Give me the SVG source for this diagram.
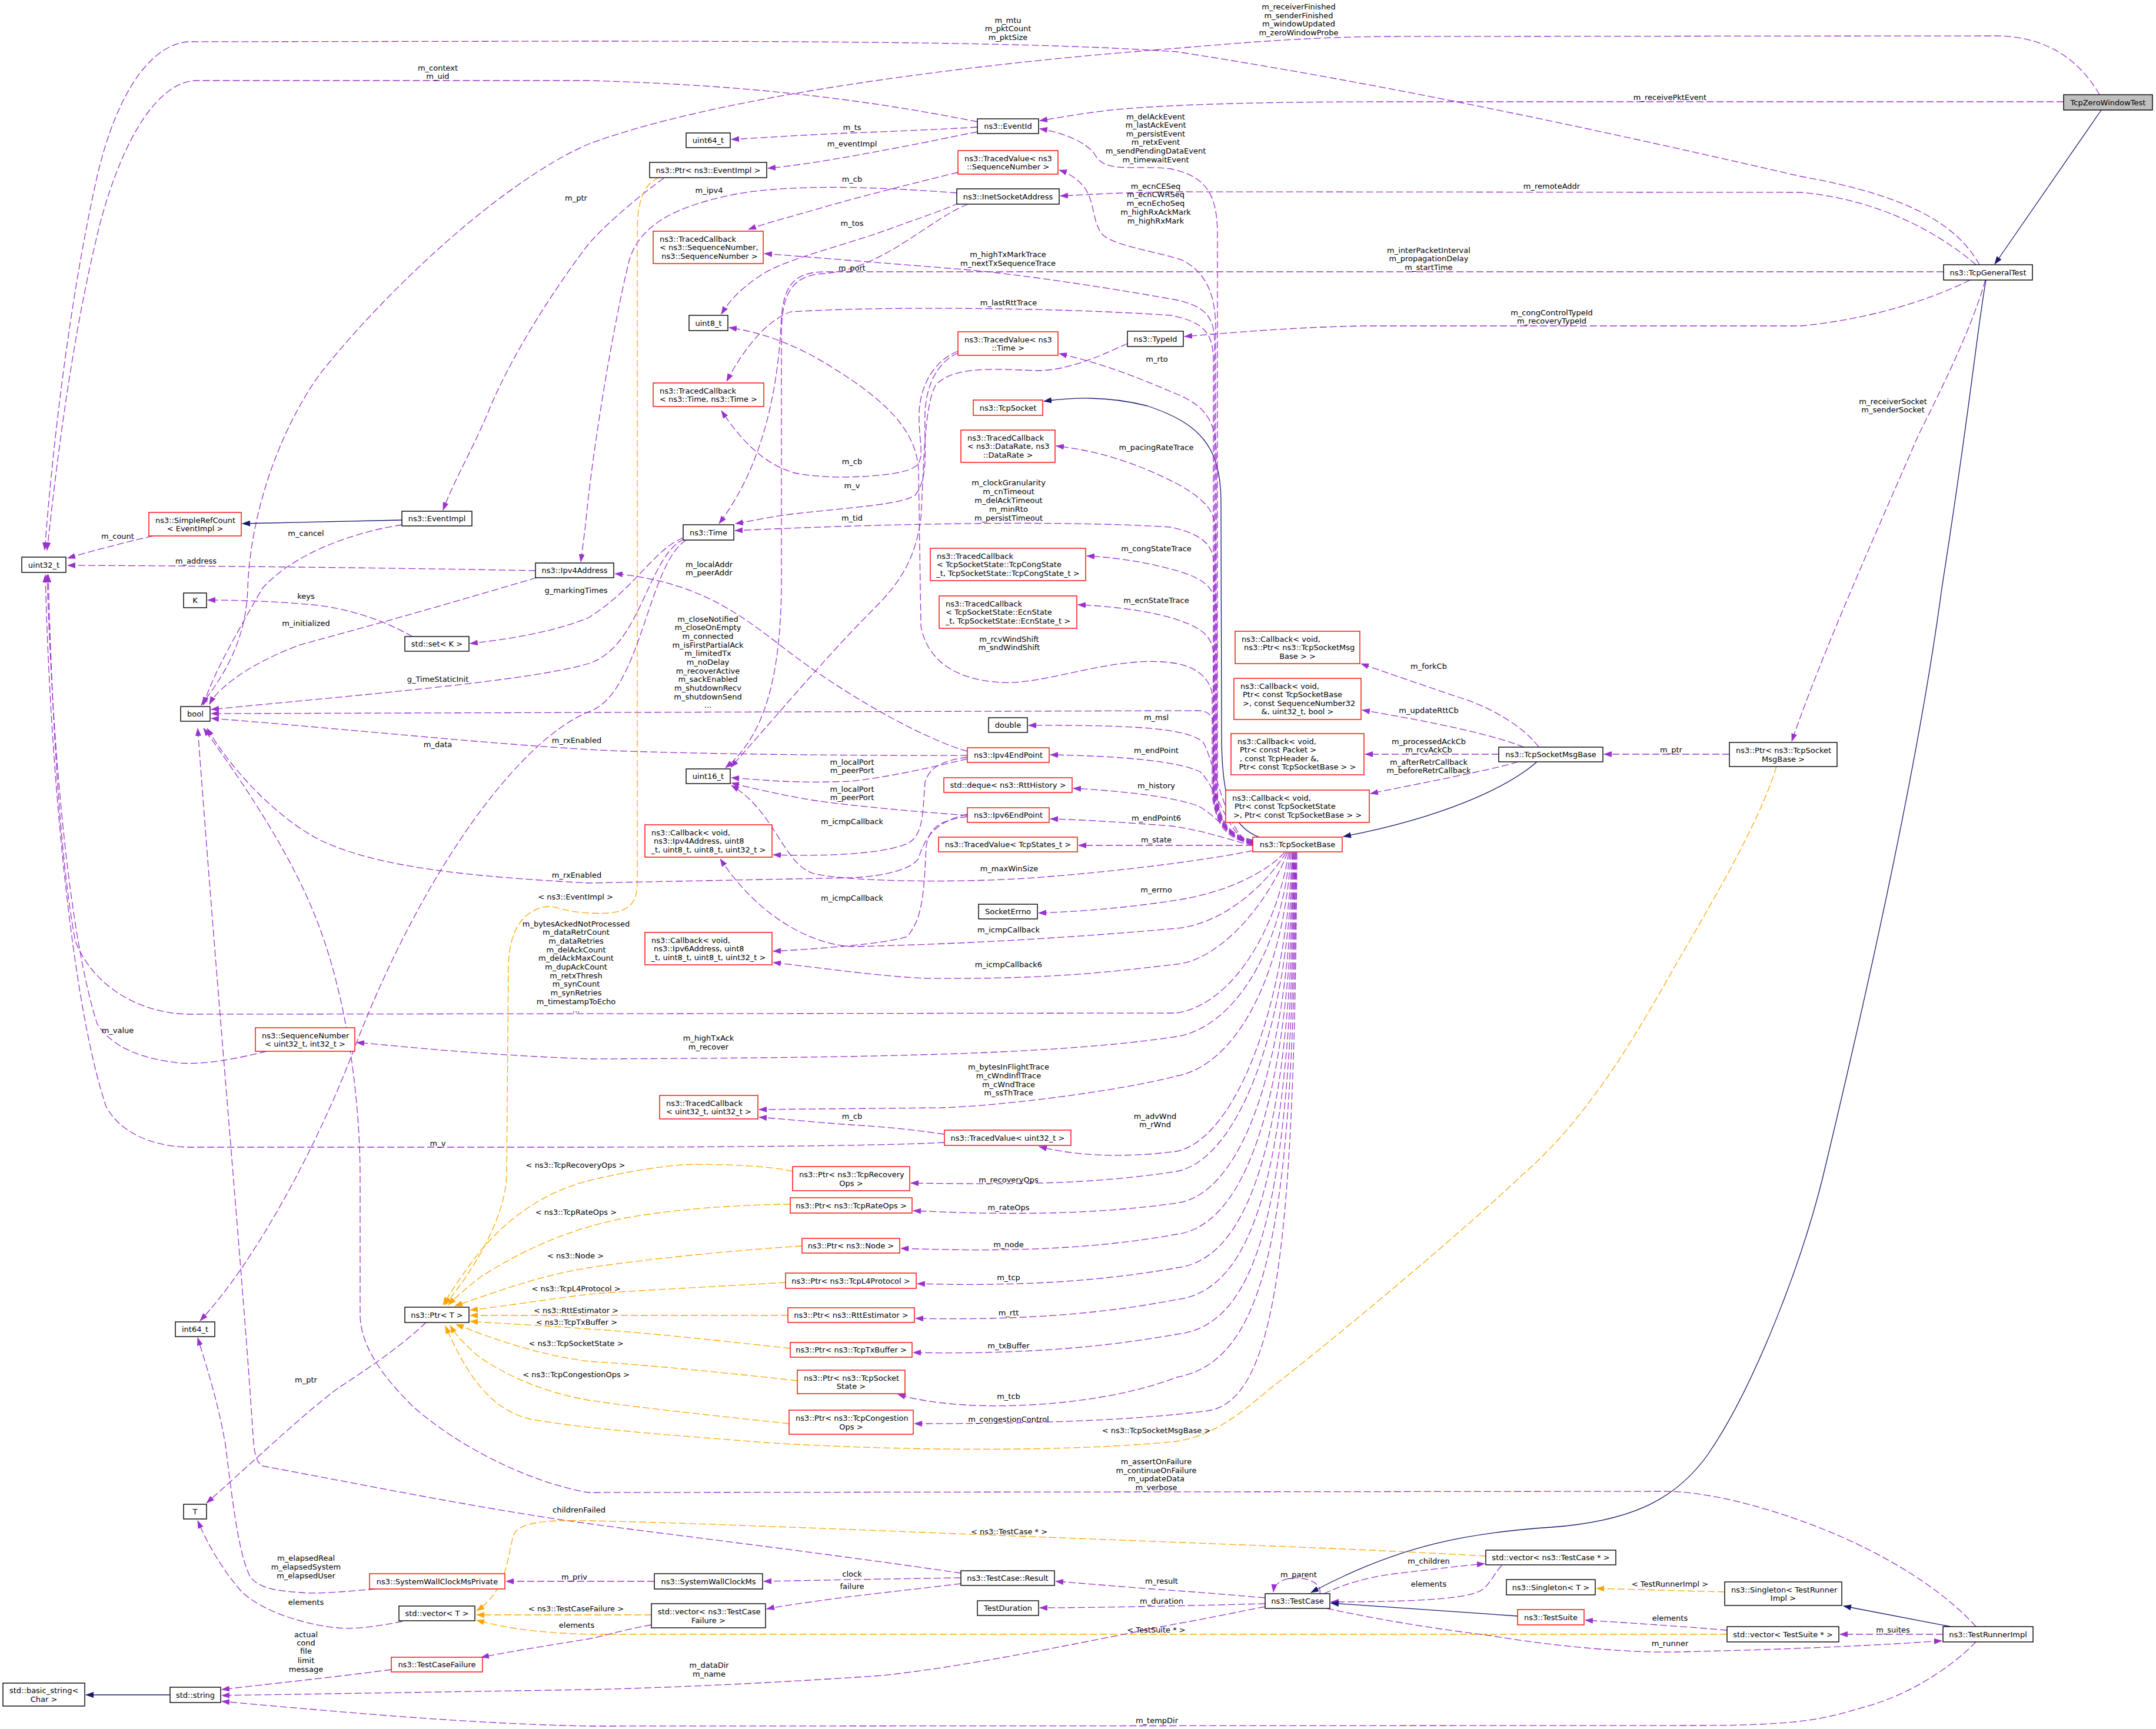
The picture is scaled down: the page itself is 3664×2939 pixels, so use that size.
<svg xmlns="http://www.w3.org/2000/svg" width="3664" height="2939" viewBox="0 0 3664 2939">
<defs>
<style>
text{font-family:"DejaVu Sans","Liberation Sans",sans-serif;font-size:13px;fill:#000}
.c{text-anchor:middle}
.nb{fill:#fff;stroke:#000;stroke-width:1.4}
.nr{fill:#fff;stroke:#ff0000;stroke-width:1.4}
.ng{fill:#bfbfbf;stroke:#000;stroke-width:1.4}
.u{fill:none;stroke:#9a32cd;stroke-width:1.3;stroke-dasharray:12,5;marker-end:url(#ap)}
.t{fill:none;stroke:#ffa500;stroke-width:1.3;stroke-dasharray:12,5;marker-end:url(#ao)}
.i{fill:none;stroke:#191970;stroke-width:1.3;marker-end:url(#ai)}
</style>
<marker id="ap" markerWidth="14" markerHeight="10" refX="13" refY="5" orient="auto" markerUnits="userSpaceOnUse"><path d="M0,0 L14,5 L0,10 z" fill="#9a32cd"/></marker>
<marker id="ao" markerWidth="14" markerHeight="10" refX="13" refY="5" orient="auto" markerUnits="userSpaceOnUse"><path d="M0,0 L14,5 L0,10 z" fill="#ffa500"/></marker>
<marker id="ai" markerWidth="14" markerHeight="10" refX="13" refY="5" orient="auto" markerUnits="userSpaceOnUse"><path d="M0,0 L14,5 L0,10 z" fill="#191970"/></marker>
</defs>
<rect x="0" y="0" width="3664" height="2939" fill="#fff"/>
<g id="connectors">
<path class="i" d="M3571 187 L3390 449"/>
<path class="u" d="M3568 161 C3530 95 3470 61 3390 61 L2350 62 C2200 64 2100 74 2000 82 C1600 112 1200 170 1000 245 C850 310 650 500 542 638 C470 740 425 880 421 1000 C418 1100 370 1160 342 1199"/>
<path class="u" d="M3507 173 L2350 173 C2100 173 1950 180 1880 188 C1830 194 1800 200 1767 205"/>
<path class="u" d="M3364 450 C3330 390 3260 335 3061 300 C2800 240 2400 150 2000 88 C1800 74 1500 70 1000 70 L320 71 C260 75 200 150 165 300 C120 500 90 750 76 935"/>
<path class="u" d="M3358 450 C3300 400 3200 340 3061 327 L2000 326 C1900 327 1850 331 1802 333"/>
<path class="u" d="M3303 462 L1400 462 C1350 463 1332 485 1328 540 C1322 680 1290 800 1222 890"/>
<path class="u" d="M3348 476 C3300 500 3200 540 3061 554 L2318 554 C2200 556 2100 565 2013 572"/>
<path class="u" d="M3374 476 C3350 560 3300 660 3260 740 C3200 880 3100 1100 3045 1260"/>
<path class="i" d="M3375 476 C3360 560 3350 680 3300 1000 C3260 1300 3170 1700 3098 2000 C3061 2150 2980 2360 2902 2473 C2850 2545 2780 2585 2637 2596 C2500 2605 2380 2625 2228 2707"/>
<path class="u" d="M2939 1282 L2726 1282"/>
<path class="t" d="M3019 1303 C2990 1400 2900 1550 2849 1638 C2780 1760 2700 1900 2584 2000 C2500 2080 2300 2250 2159 2360 C2100 2410 2060 2440 2000 2450 C1800 2470 1500 2465 1300 2452 C1150 2440 1000 2430 900 2412 C830 2395 790 2330 757 2254"/>
<path class="i" d="M2612 1295 C2560 1340 2450 1390 2283 1422"/>
<path class="u" d="M2615 1270 C2590 1235 2530 1200 2478 1185 C2420 1165 2360 1145 2313 1128"/>
<path class="u" d="M2590 1270 C2540 1250 2450 1230 2315 1207"/>
<path class="u" d="M2547 1282 L2320 1282"/>
<path class="u" d="M2580 1295 C2530 1310 2420 1330 2329 1349"/>
<path class="i" d="M2140 1423 C2090 1405 2076 1350 2076 1250 L2075 850 C2074 760 2040 720 1950 690 C1880 672 1820 676 1774 682"/>
<path class="u" d="M2130 1428 C2085 1420 2069 1390 2069 1340 L2069 400 C2069 330 2050 300 1990 287 C1930 280 1880 295 1862 265 C1848 240 1800 224 1767 219"/>
<path class="u" d="M2130 1429 C2084 1420 2066 1390 2066 1340 L2066 560 C2066 500 2050 465 2011 443 C1970 428 1900 420 1875 400 C1855 380 1862 340 1840 315 C1828 302 1815 294 1800 289"/>
<path class="u" d="M2130 1430 C2083 1422 2064 1390 2064 1340 L2064 580 C2063 545 2055 522 2000 510 C1900 492 1750 468 1638 458 L1299 431"/>
<path class="u" d="M2130 1431 C2082 1423 2062 1390 2062 1340 L2062 610 C2061 570 2050 548 1990 536 C1800 523 1500 520 1344 530 C1300 545 1260 600 1235 648"/>
<path class="u" d="M2130 1431 C2084 1423 2067 1390 2067 1340 L2067 770 C2067 720 2050 690 2000 670 C1930 640 1880 620 1800 601"/>
<path class="u" d="M2130 1432 C2083 1424 2065 1390 2065 1340 L2065 900 C2065 870 2050 850 2000 822 C1940 792 1880 768 1795 758"/>
<path class="u" d="M2130 1432 C2082 1424 2063 1390 2063 1340 L2063 960 C2062 930 2050 910 1990 896 C1800 884 1500 890 1249 902"/>
<path class="u" d="M2130 1433 C2085 1425 2068 1390 2068 1340 L2068 1040 C2066 1000 2050 985 2000 970 C1950 956 1900 948 1847 945"/>
<path class="u" d="M2130 1433 C2083 1425 2062 1390 2062 1340 L2062 1110 C2060 1080 2040 1065 1990 1050 C1940 1036 1880 1030 1832 1028"/>
<path class="u" d="M2130 1434 C2082 1426 2060 1390 2060 1340 L2060 1180 C2058 1160 2040 1135 2000 1128 C1900 1110 1780 1165 1700 1160 C1620 1155 1575 1120 1565 1064 L1561 800 C1558 740 1520 690 1415 625 C1360 590 1300 565 1239 557"/>
<path class="u" d="M2130 1434 C2082 1427 2062 1400 2062 1340 L2062 1235 C2062 1218 2055 1208 2035 1208 L359 1213"/>
<path class="u" d="M2130 1435 C2085 1425 2066 1300 2045 1262 C2020 1240 1950 1232 1748 1233"/>
<path class="u" d="M2130 1435 C2088 1427 2072 1345 2040 1312 C2000 1293 1900 1285 1785 1283"/>
<path class="u" d="M2130 1436 C2092 1428 2078 1395 2040 1372 C2000 1354 1900 1344 1824 1340"/>
<path class="u" d="M2130 1437 C2095 1430 2050 1412 1990 1404 C1900 1397 1830 1393 1785 1392"/>
<path class="u" d="M2129 1437 L1833 1437"/>
<path class="u" d="M2129 1446 C2050 1462 1900 1482 1743 1493 C1600 1502 1430 1497 1383 1485 C1330 1468 1318 1380 1243 1335"/>
<path class="u" d="M2183 1449 C2150 1485 2080 1518 2000 1530 C1930 1541 1850 1549 1765 1552"/>
<path class="u" d="M2186 1449 C2150 1505 2080 1570 2000 1578 C1800 1596 1600 1606 1446 1609 C1380 1605 1290 1560 1224 1460"/>
<path class="u" d="M2188 1449 C2160 1525 2080 1630 2000 1639 C1900 1650 1800 1665 1574 1663 C1500 1660 1400 1646 1314 1636"/>
<path class="u" d="M2190 1449 C2172 1570 2100 1705 2000 1722 L319 1724 C240 1722 160 1680 128 1600 C100 1450 88 1200 82 977"/>
<path class="u" d="M2192 1449 C2178 1610 2100 1745 2000 1762 C1800 1792 1500 1798 1000 1800 C800 1792 700 1780 606 1772"/>
<path class="u" d="M2194 1449 C2182 1660 2100 1810 2000 1829 C1900 1855 1700 1880 1600 1883 L1290 1886"/>
<path class="u" d="M2196 1449 C2186 1710 2100 1935 2000 1957 C1900 1970 1820 1963 1766 1949"/>
<path class="u" d="M2197 1449 C2190 1760 2100 1972 2000 1991 C1850 2015 1700 2013 1548 2011"/>
<path class="u" d="M2198 1449 C2192 1810 2110 2030 2000 2045 C1850 2066 1700 2065 1552 2058"/>
<path class="u" d="M2199 1449 C2193 1860 2120 2082 2000 2098 C1850 2125 1700 2128 1531 2122"/>
<path class="u" d="M2200 1449 C2194 1910 2130 2140 2000 2155 C1850 2182 1700 2186 1559 2182"/>
<path class="u" d="M2201 1449 C2195 1960 2140 2192 2000 2209 C1850 2238 1700 2244 1556 2241"/>
<path class="u" d="M2202 1449 C2196 2010 2150 2252 2000 2268 C1850 2295 1700 2302 1552 2299"/>
<path class="u" d="M2203 1449 C2198 2060 2160 2312 2000 2341 C1900 2380 1750 2395 1638 2388 C1590 2385 1550 2378 1526 2370"/>
<path class="u" d="M2204 1449 C2200 2110 2170 2380 2053 2398 C1900 2418 1700 2420 1554 2420"/>
<path class="u" d="M1661 207 C1500 175 1300 145 1000 137 L332 137 C270 140 210 230 170 380 C120 580 95 800 80 935"/>
<path class="u" d="M1661 216 C1600 220 1500 224 1446 226 C1350 230 1300 234 1243 237"/>
<path class="u" d="M1661 224 C1620 232 1574 242 1520 252 C1446 266 1370 280 1305 286"/>
<path class="u" d="M1628 293 C1550 312 1446 338 1380 358 C1330 372 1300 380 1272 390"/>
<path class="u" d="M1626 328 C1500 318 1350 312 1250 330 C1150 350 1090 380 1070 440 C1040 560 1005 780 995 893 L987 955"/>
<path class="u" d="M1630 345 C1600 358 1574 367 1520 386 C1446 415 1330 440 1290 470 C1260 490 1240 510 1226 534"/>
<path class="u" d="M1645 347 C1580 372 1500 458 1400 465 C1345 468 1330 500 1328 560 L1328 1000 C1326 1150 1300 1250 1233 1305"/>
<path class="u" d="M1128 303 C1090 330 1030 380 1000 415 C950 480 870 600 829 702 C800 770 770 820 753 867"/>
<path class="t" d="M1120 302 C1100 310 1085 330 1083 383 L1083 1500 C1083 1545 1060 1555 1000 1552 C960 1550 945 1540 931 1541 C890 1545 866 1580 864 1640 L861 2000 C858 2060 820 2140 756 2218"/>
<path class="i" d="M683 884 L412 890"/>
<path class="u" d="M683 892 C600 905 500 940 446 1000 C400 1080 360 1150 346 1198"/>
<path class="u" d="M260 911 C200 925 150 938 115 949"/>
<path class="u" d="M910 970 C700 966 400 962 115 961"/>
<path class="u" d="M912 982 C850 1000 700 1045 510 1096 C420 1130 370 1170 356 1197"/>
<path class="u" d="M1628 597 C1590 612 1565 650 1562 700 C1560 760 1580 790 1540 800 C1500 812 1400 815 1351 804 C1300 790 1260 750 1226 698"/>
<path class="u" d="M1628 600 C1595 615 1575 650 1572 700 C1570 760 1580 810 1555 842 C1530 858 1450 862 1344 874 C1300 880 1275 886 1250 890"/>
<path class="u" d="M1916 584 C1880 600 1820 630 1762 630 C1700 628 1620 620 1590 655 C1570 690 1570 800 1565 880 C1555 960 1520 1000 1480 1040 C1400 1120 1300 1240 1242 1304"/>
<path class="u" d="M1161 914 C1110 935 1080 1000 1000 1050 C950 1070 893 1083 799 1094"/>
<path class="u" d="M1163 916 C1100 945 1090 1100 1000 1128 C900 1158 600 1182 359 1206"/>
<path class="u" d="M1166 918 C1100 960 1090 1180 1000 1210 C880 1260 720 1480 606 1772 C540 1950 430 2150 340 2245"/>
<path class="u" d="M701 1082 C670 1065 620 1040 542 1029 C470 1022 400 1020 353 1020"/>
<path class="u" d="M1644 1277 C1580 1260 1450 1190 1350 1115 C1270 1055 1200 990 1045 975"/>
<path class="u" d="M1644 1284 C1400 1285 1100 1280 1000 1274 C800 1262 600 1240 359 1221"/>
<path class="u" d="M1644 1290 C1600 1300 1520 1320 1446 1328 C1350 1332 1300 1326 1243 1322"/>
<path class="u" d="M1644 1287 C1610 1292 1580 1300 1572 1330 C1568 1380 1570 1420 1542 1434 C1500 1452 1400 1456 1314 1453"/>
<path class="u" d="M1644 1386 C1560 1380 1446 1370 1380 1360 C1320 1350 1280 1340 1243 1331"/>
<path class="u" d="M1644 1384 C1600 1395 1575 1412 1561 1459 C1550 1478 1500 1490 1446 1492 L1000 1501 C800 1490 640 1475 542 1427 C480 1395 400 1320 352 1238"/>
<path class="u" d="M1644 1388 C1600 1394 1578 1405 1574 1440 C1570 1520 1568 1560 1542 1592 C1500 1605 1400 1612 1314 1617"/>
<path class="u" d="M1605 1928 C1550 1920 1500 1915 1446 1912 C1390 1908 1340 1903 1290 1899"/>
<path class="u" d="M1605 1942 C1500 1948 1200 1950 1000 1950 L319 1950 C250 1948 200 1920 180 1880 C120 1700 85 1300 77 977"/>
<path class="u" d="M453 1787 C400 1800 350 1810 306 1807 C240 1800 190 1780 165 1740 C120 1600 90 1300 80 977"/>
<path class="t" d="M1347 1991 C1300 1980 1200 1978 1159 1980 C1100 1985 1050 1995 1000 2007 C950 2020 880 2050 816 2127 C790 2160 770 2190 753 2218"/>
<path class="t" d="M1343 2047 C1250 2048 1150 2055 1064 2070 C960 2090 880 2130 816 2171 C795 2188 780 2200 762 2218"/>
<path class="t" d="M1363 2118 C1250 2125 1100 2140 1000 2155 C920 2168 860 2190 773 2220"/>
<path class="t" d="M1335 2180 C1200 2188 1050 2195 1000 2200 C920 2210 860 2220 799 2227"/>
<path class="t" d="M1339 2236 L799 2236"/>
<path class="t" d="M1343 2292 C1250 2282 1100 2265 1000 2259 C920 2253 860 2250 799 2246"/>
<path class="t" d="M1355 2347 C1250 2335 1100 2320 1000 2314 C930 2305 860 2285 775 2251"/>
<path class="t" d="M1341 2420 C1250 2410 1100 2395 1000 2380 C930 2368 860 2340 810 2303 C790 2285 775 2270 765 2253"/>
<path class="u" d="M724 2248 C680 2290 620 2330 574 2360 C520 2400 446 2470 351 2555"/>
<path class="u" d="M684 2756 C640 2765 600 2770 574 2767 C520 2762 446 2740 410 2705 C380 2670 355 2630 336 2585"/>
<path class="u" d="M638 2701 C590 2705 540 2710 510 2707 C470 2704 440 2700 425 2680 C405 2640 395 2550 383 2455 C370 2380 350 2320 336 2274"/>
<path class="u" d="M1112 2688 L860 2688"/>
<path class="u" d="M1633 2682 C1500 2684 1400 2686 1298 2688"/>
<path class="u" d="M1633 2692 C1550 2702 1446 2713 1400 2720 C1350 2727 1320 2731 1303 2735"/>
<path class="u" d="M1633 2674 C1400 2640 1150 2610 1000 2590 C800 2562 600 2520 446 2492 C435 2485 432 2470 430 2440 C415 2200 370 1700 336 1238"/>
<path class="u" d="M3358 2765 C3300 2700 3200 2640 3100 2600 C3000 2560 2900 2535 2828 2535 L1000 2537 C900 2520 780 2460 702 2391 C640 2330 612 2280 612 2234 L612 2000 C612 1870 590 1700 542 1574 C500 1460 420 1340 346 1238"/>
<path class="t" d="M2525 2645 C2300 2632 2000 2622 1700 2610 C1400 2598 1150 2588 1000 2585 C940 2584 890 2585 875 2605 C862 2630 868 2700 810 2738"/>
<path class="t" d="M1107 2745 L810 2745"/>
<path class="t" d="M2935 2778 L1000 2778 C900 2775 850 2765 810 2754"/>
<path class="u" d="M1107 2762 C1060 2770 1030 2780 1000 2786 C930 2797 870 2807 818 2817"/>
<path class="u" d="M665 2838 C560 2852 450 2863 377 2872"/>
<path class="u" d="M2150 2731 C2080 2745 2030 2755 2000 2760 C1800 2800 1638 2833 1500 2848 C1300 2862 1100 2870 1000 2872 L377 2882"/>
<path class="u" d="M3358 2791 C3320 2830 3250 2880 3167 2902 C3100 2922 3061 2932 2900 2933 L1000 2934 C800 2930 600 2912 377 2892"/>
<path class="i" d="M289 2881 L146 2881"/>
<path class="u" d="M2150 2716 C2080 2710 2030 2706 2000 2704 C1900 2697 1850 2692 1794 2688"/>
<path class="u" d="M2150 2726 C2000 2730 1850 2733 1767 2733"/>
<path class="u" d="M2250 2709 C2290 2690 2330 2680 2371 2675 C2430 2668 2480 2662 2523 2658"/>
<path class="u" d="M2552 2661 C2535 2680 2530 2700 2509 2707 C2480 2718 2400 2723 2262 2723"/>
<path class="u" d="M2243 2709 C2250 2678 2168 2670 2164 2706"/>
<path class="i" d="M2579 2747 L2262 2725"/>
<path class="i" d="M3315 2765 L3133 2730"/>
<path class="t" d="M2931 2706 L2713 2700"/>
<path class="u" d="M2935 2771 C2850 2764 2760 2758 2694 2754"/>
<path class="u" d="M3302 2778 L3127 2778"/>
<path class="u" d="M2255 2734 C2350 2755 2450 2770 2531 2780 C2650 2800 2780 2810 2849 2808 C2950 2806 3150 2800 3300 2789"/>
<g class="lbl">
<text class="c" x="2207" y="16">m_receiverFinished</text>
<text class="c" x="2207" y="30.5">m_senderFinished</text>
<text class="c" x="2207" y="45">m_windowUpdated</text>
<text class="c" x="2207" y="60">m_zeroWindowProbe</text>
<text class="c" x="1713" y="38.5">m_mtu</text>
<text class="c" x="1713" y="53">m_pktCount</text>
<text class="c" x="1713" y="68">m_pktSize</text>
<text class="c" x="2838" y="169.5">m_receivePktEvent</text>
<text class="c" x="744" y="119.5">m_context</text>
<text class="c" x="744" y="134">m_uid</text>
<text class="c" x="1448" y="220.5">m_ts</text>
<text class="c" x="1448" y="248.5">m_eventImpl</text>
<text class="c" x="1964" y="202.5">m_delAckEvent</text>
<text class="c" x="1964" y="217">m_lastAckEvent</text>
<text class="c" x="1964" y="231.5">m_persistEvent</text>
<text class="c" x="1964" y="246">m_retxEvent</text>
<text class="c" x="1964" y="261">m_sendPendingDataEvent</text>
<text class="c" x="1964" y="275.5">m_timewaitEvent</text>
<text class="c" x="2637" y="320.5">m_remoteAddr</text>
<text class="c" x="1448" y="308.5">m_cb</text>
<text class="c" x="1205" y="327.5">m_ipv4</text>
<text class="c" x="979" y="340.5">m_ptr</text>
<text class="c" x="1964" y="320.5">m_ecnCESeq</text>
<text class="c" x="1964" y="335">m_ecnCWRSeq</text>
<text class="c" x="1964" y="350">m_ecnEchoSeq</text>
<text class="c" x="1964" y="364.5">m_highRxAckMark</text>
<text class="c" x="1964" y="379.5">m_highRxMark</text>
<text class="c" x="1448" y="383.5">m_tos</text>
<text class="c" x="2428" y="429.5">m_interPacketInterval</text>
<text class="c" x="2428" y="444">m_propagationDelay</text>
<text class="c" x="2428" y="458.5">m_startTime</text>
<text class="c" x="1713" y="436.5">m_highTxMarkTrace</text>
<text class="c" x="1713" y="451.5">m_nextTxSequenceTrace</text>
<text class="c" x="1448" y="459.5">m_port</text>
<text class="c" x="1714" y="518.5">m_lastRttTrace</text>
<text class="c" x="2637" y="535.5">m_congControlTypeId</text>
<text class="c" x="2637" y="549.5">m_recoveryTypeId</text>
<text class="c" x="1966" y="614.5">m_rto</text>
<text class="c" x="3217" y="686.5">m_receiverSocket</text>
<text class="c" x="3217" y="700.5">m_senderSocket</text>
<text class="c" x="1965" y="764.5">m_pacingRateTrace</text>
<text class="c" x="1448" y="788.5">m_cb</text>
<text class="c" x="1448" y="829.5">m_v</text>
<text class="c" x="1714" y="824.5">m_clockGranularity</text>
<text class="c" x="1714" y="839.5">m_cnTimeout</text>
<text class="c" x="1714" y="855">m_delAckTimeout</text>
<text class="c" x="1714" y="869.5">m_minRto</text>
<text class="c" x="1714" y="884.5">m_persistTimeout</text>
<text class="c" x="1448" y="884.5">m_tid</text>
<text class="c" x="200" y="915.5">m_count</text>
<text class="c" x="520" y="910.5">m_cancel</text>
<text class="c" x="333" y="957.5">m_address</text>
<text class="c" x="1965" y="936.5">m_congStateTrace</text>
<text class="c" x="1205" y="963.5">m_localAddr</text>
<text class="c" x="1205" y="977.5">m_peerAddr</text>
<text class="c" x="979" y="1007.5">g_markingTimes</text>
<text class="c" x="520" y="1017.5">keys</text>
<text class="c" x="1965" y="1024.5">m_ecnStateTrace</text>
<text class="c" x="520" y="1063.5">m_initialized</text>
<text class="c" x="1203" y="1056.5">m_closeNotified</text>
<text class="c" x="1203" y="1071">m_closeOnEmpty</text>
<text class="c" x="1203" y="1086">m_connected</text>
<text class="c" x="1203" y="1100.5">m_isFirstPartialAck</text>
<text class="c" x="1203" y="1115">m_limitedTx</text>
<text class="c" x="1203" y="1130">m_noDelay</text>
<text class="c" x="1203" y="1144.5">m_recoverActive</text>
<text class="c" x="1203" y="1159">m_sackEnabled</text>
<text class="c" x="1203" y="1174">m_shutdownRecv</text>
<text class="c" x="1203" y="1188.5">m_shutdownSend</text>
<text class="c" x="1203" y="1203">...</text>
<text class="c" x="1715" y="1090.5">m_rcvWindShift</text>
<text class="c" x="1715" y="1104.5">m_sndWindShift</text>
<text class="c" x="2428" y="1136.5">m_forkCb</text>
<text class="c" x="744" y="1158.5">g_TimeStaticInit</text>
<text class="c" x="2428" y="1211.5">m_updateRttCb</text>
<text class="c" x="1965" y="1223.5">m_msl</text>
<text class="c" x="980" y="1262.5">m_rxEnabled</text>
<text class="c" x="744" y="1269.5">m_data</text>
<text class="c" x="2428" y="1264.5">m_processedAckCb</text>
<text class="c" x="2428" y="1278.5">m_rcvAckCb</text>
<text class="c" x="2840" y="1278.5">m_ptr</text>
<text class="c" x="1965" y="1279.5">m_endPoint</text>
<text class="c" x="1448" y="1299.5">m_localPort</text>
<text class="c" x="1448" y="1313.5">m_peerPort</text>
<text class="c" x="2428" y="1299.5">m_afterRetrCallback</text>
<text class="c" x="2428" y="1313.5">m_beforeRetrCallback</text>
<text class="c" x="1965" y="1339.5">m_history</text>
<text class="c" x="1448" y="1345.5">m_localPort</text>
<text class="c" x="1448" y="1359.5">m_peerPort</text>
<text class="c" x="1965" y="1394.5">m_endPoint6</text>
<text class="c" x="1448" y="1400.5">m_icmpCallback</text>
<text class="c" x="1965" y="1431.5">m_state</text>
<text class="c" x="1715" y="1480.5">m_maxWinSize</text>
<text class="c" x="980" y="1491.5">m_rxEnabled</text>
<text class="c" x="1965" y="1516.5">m_errno</text>
<text class="c" x="978" y="1528.5">&lt; ns3::EventImpl &gt;</text>
<text class="c" x="1448" y="1530.5">m_icmpCallback</text>
<text class="c" x="979" y="1574.5">m_bytesAckedNotProcessed</text>
<text class="c" x="979" y="1589">m_dataRetrCount</text>
<text class="c" x="979" y="1604">m_dataRetries</text>
<text class="c" x="979" y="1618.5">m_delAckCount</text>
<text class="c" x="979" y="1633">m_delAckMaxCount</text>
<text class="c" x="979" y="1648">m_dupAckCount</text>
<text class="c" x="979" y="1662.5">m_retxThresh</text>
<text class="c" x="979" y="1677">m_synCount</text>
<text class="c" x="979" y="1692">m_synRetries</text>
<text class="c" x="979" y="1706.5">m_timestampToEcho</text>
<text class="c" x="979" y="1721">...</text>
<text class="c" x="1714" y="1584.5">m_icmpCallback</text>
<text class="c" x="1714" y="1643.5">m_icmpCallback6</text>
<text class="c" x="200" y="1755.5">m_value</text>
<text class="c" x="1204" y="1768.5">m_highTxAck</text>
<text class="c" x="1204" y="1783.5">m_recover</text>
<text class="c" x="1714" y="1817.5">m_bytesInFlightTrace</text>
<text class="c" x="1714" y="1832.5">m_cWndInflTrace</text>
<text class="c" x="1714" y="1847.5">m_cWndTrace</text>
<text class="c" x="1714" y="1861.5">m_ssThTrace</text>
<text class="c" x="1448" y="1901.5">m_cb</text>
<text class="c" x="1963" y="1901.5">m_advWnd</text>
<text class="c" x="1963" y="1915.5">m_rWnd</text>
<text class="c" x="744" y="1947.5">m_v</text>
<text class="c" x="978" y="1984.5">&lt; ns3::TcpRecoveryOps &gt;</text>
<text class="c" x="1714" y="2009.5">m_recoveryOps</text>
<text class="c" x="1714" y="2056.5">m_rateOps</text>
<text class="c" x="979" y="2064.5">&lt; ns3::TcpRateOps &gt;</text>
<text class="c" x="1714" y="2119.5">m_node</text>
<text class="c" x="978" y="2138.5">&lt; ns3::Node &gt;</text>
<text class="c" x="1714" y="2175.5">m_tcp</text>
<text class="c" x="979" y="2194.5">&lt; ns3::TcpL4Protocol &gt;</text>
<text class="c" x="979" y="2231.5">&lt; ns3::RttEstimator &gt;</text>
<text class="c" x="1714" y="2235.5">m_rtt</text>
<text class="c" x="980" y="2251.5">&lt; ns3::TcpTxBuffer &gt;</text>
<text class="c" x="979" y="2287.5">&lt; ns3::TcpSocketState &gt;</text>
<text class="c" x="1714" y="2291.5">m_txBuffer</text>
<text class="c" x="979" y="2340.5">&lt; ns3::TcpCongestionOps &gt;</text>
<text class="c" x="520" y="2349.5">m_ptr</text>
<text class="c" x="1714" y="2377.5">m_tcb</text>
<text class="c" x="1714" y="2416.5">m_congestionControl</text>
<text class="c" x="1965" y="2435.5">&lt; ns3::TcpSocketMsgBase &gt;</text>
<text class="c" x="1965" y="2488.5">m_assertOnFailure</text>
<text class="c" x="1965" y="2503.5">m_continueOnFailure</text>
<text class="c" x="1965" y="2517.5">m_updateData</text>
<text class="c" x="1965" y="2532.5">m_verbose</text>
<text class="c" x="984" y="2570.5">childrenFailed</text>
<text class="c" x="1715" y="2607.5">&lt; ns3::TestCase * &gt;</text>
<text class="c" x="520" y="2652.5">m_elapsedReal</text>
<text class="c" x="520" y="2667.5">m_elapsedSystem</text>
<text class="c" x="520" y="2682.5">m_elapsedUser</text>
<text class="c" x="976" y="2684.5">m_priv</text>
<text class="c" x="1448" y="2679.5">clock</text>
<text class="c" x="1448" y="2700.5">failure</text>
<text class="c" x="1974" y="2691.5">m_result</text>
<text class="c" x="1974" y="2725.5">m_duration</text>
<text class="c" x="520" y="2727.5">elements</text>
<text class="c" x="979" y="2738.5">&lt; ns3::TestCaseFailure &gt;</text>
<text class="c" x="980" y="2766.5">elements</text>
<text class="c" x="1965" y="2774.5">&lt; TestSuite * &gt;</text>
<text class="c" x="520" y="2782.5">actual</text>
<text class="c" x="520" y="2796.5">cond</text>
<text class="c" x="520" y="2810.5">file</text>
<text class="c" x="520" y="2826.5">limit</text>
<text class="c" x="520" y="2841.5">message</text>
<text class="c" x="1205" y="2834.5">m_dataDir</text>
<text class="c" x="1205" y="2849.5">m_name</text>
<text class="c" x="1966" y="2928.5">m_tempDir</text>
<text class="c" x="2428" y="2657.5">m_children</text>
<text class="c" x="2207" y="2680.5">m_parent</text>
<text class="c" x="2428" y="2696.5">elements</text>
<text class="c" x="2838" y="2696.5">&lt; TestRunnerImpl &gt;</text>
<text class="c" x="2838" y="2754.5">elements</text>
<text class="c" x="3217" y="2774.5">m_suites</text>
<text class="c" x="2838" y="2797.5">m_runner</text>
</g>
</g>
<g id="n_TcpZeroWindowTest"><rect class="ng" x="3507" y="161" width="151" height="26"/><text class="c" x="3582.5" y="178.5">TcpZeroWindowTest</text></g>
<g id="n_TcpGeneralTest"><rect class="nb" x="3303" y="450" width="151" height="26"/><text class="c" x="3378.5" y="467.5">ns3::TcpGeneralTest</text></g>
<g id="n_EventId"><rect class="nb" x="1661" y="202" width="104" height="25"/><text class="c" x="1713" y="219">ns3::EventId</text></g>
<g id="n_uint64"><rect class="nb" x="1166" y="226" width="75" height="25"/><text class="c" x="1203.5" y="243">uint64_t</text></g>
<g id="n_PtrEventImpl"><rect class="nb" x="1104" y="276" width="199" height="26"/><text class="c" x="1203.5" y="293.5">ns3::Ptr&lt; ns3::EventImpl &gt;</text></g>
<g id="n_TVSeq"><rect class="nr" x="1628" y="256" width="170" height="40"/><text x="1639" y="273.5">ns3::TracedValue&lt; ns3</text><text class="c" x="1713" y="288">::SequenceNumber &gt;</text></g>
<g id="n_InetSocketAddress"><rect class="nb" x="1626" y="321" width="174" height="26"/><text class="c" x="1713" y="338.5">ns3::InetSocketAddress</text></g>
<g id="n_TCSeq"><rect class="nr" x="1110" y="393" width="187" height="55"/><text x="1121" y="410.5">ns3::TracedCallback</text><text x="1121" y="425">&lt; ns3::SequenceNumber,</text><text class="c" x="1206" y="439.5">ns3::SequenceNumber &gt;</text></g>
<g id="n_uint8"><rect class="nb" x="1171" y="536" width="66" height="26"/><text class="c" x="1204" y="553.5">uint8_t</text></g>
<g id="n_TVTime"><rect class="nr" x="1628" y="564" width="170" height="40"/><text x="1639" y="581.5">ns3::TracedValue&lt; ns3</text><text class="c" x="1713" y="596">::Time &gt;</text></g>
<g id="n_TypeId"><rect class="nb" x="1916" y="563" width="95" height="26"/><text class="c" x="1963.5" y="580.5">ns3::TypeId</text></g>
<g id="n_TCTime"><rect class="nr" x="1110" y="651" width="188" height="40"/><text x="1121" y="668.5">ns3::TracedCallback</text><text class="c" x="1204" y="683">&lt; ns3::Time, ns3::Time &gt;</text></g>
<g id="n_TcpSocket"><rect class="nr" x="1654" y="680" width="118" height="26"/><text class="c" x="1713" y="697.5">ns3::TcpSocket</text></g>
<g id="n_TCRate"><rect class="nr" x="1633" y="731" width="160" height="55"/><text x="1644" y="748.5">ns3::TracedCallback</text><text x="1644" y="763">&lt; ns3::DataRate, ns3</text><text class="c" x="1713" y="777.5">::DataRate &gt;</text></g>
<g id="n_Time"><rect class="nb" x="1161" y="892" width="86" height="26"/><text class="c" x="1204" y="909.5">ns3::Time</text></g>
<g id="n_TCCong"><rect class="nr" x="1581" y="932" width="264" height="55"/><text x="1592" y="949.5">ns3::TracedCallback</text><text x="1592" y="964">&lt; TcpSocketState::TcpCongState</text><text class="c" x="1713" y="978.5">_t, TcpSocketState::TcpCongState_t &gt;</text></g>
<g id="n_TCEcn"><rect class="nr" x="1596" y="1013" width="234" height="55"/><text x="1607" y="1030.5">ns3::TracedCallback</text><text x="1607" y="1045">&lt; TcpSocketState::EcnState</text><text class="c" x="1713" y="1059.5">_t, TcpSocketState::EcnState_t &gt;</text></g>
<g id="n_CbFork"><rect class="nr" x="2099" y="1073" width="212" height="55"/><text x="2110" y="1090.5">ns3::Callback&lt; void,</text><text x="2114" y="1105">ns3::Ptr&lt; ns3::TcpSocketMsg</text><text class="c" x="2205" y="1119.5">Base &gt; &gt;</text></g>
<g id="n_CbRtt"><rect class="nr" x="2097" y="1153" width="216" height="70"/><text x="2108" y="1170.5">ns3::Callback&lt; void,</text><text x="2112" y="1185">Ptr&lt; const TcpSocketBase</text><text x="2112" y="1199.5">&gt;, const SequenceNumber32</text><text class="c" x="2205" y="1214">&amp;, uint32_t, bool &gt;</text></g>
<g id="n_double"><rect class="nb" x="1680" y="1220" width="66" height="25"/><text class="c" x="1713" y="1237">double</text></g>
<g id="n_CbAck"><rect class="nr" x="2092" y="1247" width="226" height="70"/><text x="2103" y="1264.5">ns3::Callback&lt; void,</text><text x="2107" y="1279">Ptr&lt; const Packet &gt;</text><text x="2107" y="1293.5">, const TcpHeader &amp;,</text><text class="c" x="2205" y="1308">Ptr&lt; const TcpSocketBase &gt; &gt;</text></g>
<g id="n_Ipv4EndPoint"><rect class="nr" x="1644" y="1271" width="139" height="25"/><text class="c" x="1713.5" y="1288">ns3::Ipv4EndPoint</text></g>
<g id="n_TcpSocketMsgBase"><rect class="nb" x="2547" y="1270" width="177" height="25"/><text class="c" x="2635.5" y="1287">ns3::TcpSocketMsgBase</text></g>
<g id="n_PtrTSMB"><rect class="nb" x="2939" y="1262" width="183" height="41"/><text x="2950" y="1280">ns3::Ptr&lt; ns3::TcpSocket</text><text class="c" x="3030.5" y="1294.5">MsgBase &gt;</text></g>
<g id="n_deque"><rect class="nr" x="1604" y="1322" width="218" height="25"/><text class="c" x="1713" y="1339">std::deque&lt; ns3::RttHistory &gt;</text></g>
<g id="n_CbRetr"><rect class="nr" x="2083" y="1343" width="244" height="55"/><text x="2094" y="1360.5">ns3::Callback&lt; void,</text><text x="2098" y="1375">Ptr&lt; const TcpSocketState</text><text class="c" x="2205" y="1389.5">&gt;, Ptr&lt; const TcpSocketBase &gt; &gt;</text></g>
<g id="n_Ipv6EndPoint"><rect class="nr" x="1644" y="1373" width="139" height="25"/><text class="c" x="1713.5" y="1390">ns3::Ipv6EndPoint</text></g>
<g id="n_TVStates"><rect class="nr" x="1595" y="1423" width="236" height="25"/><text class="c" x="1713" y="1440">ns3::TracedValue&lt; TcpStates_t &gt;</text></g>
<g id="n_TcpSocketBase"><rect class="nr" x="2129" y="1423" width="152" height="25"/><text class="c" x="2205" y="1440">ns3::TcpSocketBase</text></g>
<g id="n_SocketErrno"><rect class="nb" x="1663" y="1537" width="100" height="25"/><text class="c" x="1713" y="1554">SocketErrno</text></g>
<g id="n_uint16"><rect class="nb" x="1166" y="1307" width="75" height="25"/><text class="c" x="1203.5" y="1324">uint16_t</text></g>
<g id="n_CbIpv4"><rect class="nr" x="1096" y="1402" width="216" height="55"/><text x="1107" y="1419.5">ns3::Callback&lt; void,</text><text x="1111" y="1434">ns3::Ipv4Address, uint8</text><text class="c" x="1204" y="1448.5">_t, uint8_t, uint8_t, uint32_t &gt;</text></g>
<g id="n_CbIpv6"><rect class="nr" x="1096" y="1585" width="216" height="55"/><text x="1107" y="1602.5">ns3::Callback&lt; void,</text><text x="1111" y="1617">ns3::Ipv6Address, uint8</text><text class="c" x="1204" y="1631.5">_t, uint8_t, uint8_t, uint32_t &gt;</text></g>
<g id="n_SeqNum"><rect class="nr" x="434" y="1747" width="169" height="40"/><text x="445" y="1764.5">ns3::SequenceNumber</text><text class="c" x="518.5" y="1779">&lt; uint32_t, int32_t &gt;</text></g>
<g id="n_TCu32"><rect class="nr" x="1121" y="1862" width="167" height="40"/><text x="1132" y="1879.5">ns3::TracedCallback</text><text class="c" x="1204.5" y="1894">&lt; uint32_t, uint32_t &gt;</text></g>
<g id="n_TVu32"><rect class="nr" x="1605" y="1921" width="215" height="26"/><text class="c" x="1712.5" y="1938.5">ns3::TracedValue&lt; uint32_t &gt;</text></g>
<g id="n_PtrRec"><rect class="nr" x="1347" y="1983" width="199" height="41"/><text x="1358" y="2001">ns3::Ptr&lt; ns3::TcpRecovery</text><text class="c" x="1446.5" y="2015.5">Ops &gt;</text></g>
<g id="n_PtrRate"><rect class="nr" x="1343" y="2036" width="207" height="26"/><text class="c" x="1446.5" y="2053.5">ns3::Ptr&lt; ns3::TcpRateOps &gt;</text></g>
<g id="n_PtrNode"><rect class="nr" x="1363" y="2105" width="166" height="25"/><text class="c" x="1446" y="2122">ns3::Ptr&lt; ns3::Node &gt;</text></g>
<g id="n_PtrL4"><rect class="nr" x="1335" y="2164" width="222" height="26"/><text class="c" x="1446" y="2181.5">ns3::Ptr&lt; ns3::TcpL4Protocol &gt;</text></g>
<g id="n_PtrRtt"><rect class="nr" x="1339" y="2223" width="215" height="25"/><text class="c" x="1446.5" y="2240">ns3::Ptr&lt; ns3::RttEstimator &gt;</text></g>
<g id="n_PtrTx"><rect class="nr" x="1343" y="2282" width="207" height="25"/><text class="c" x="1446.5" y="2299">ns3::Ptr&lt; ns3::TcpTxBuffer &gt;</text></g>
<g id="n_PtrTcb"><rect class="nr" x="1355" y="2329" width="183" height="40"/><text x="1366" y="2346.5">ns3::Ptr&lt; ns3::TcpSocket</text><text class="c" x="1446.5" y="2361">State &gt;</text></g>
<g id="n_PtrCong"><rect class="nr" x="1341" y="2397" width="211" height="41"/><text x="1352" y="2415">ns3::Ptr&lt; ns3::TcpCongestion</text><text class="c" x="1446.5" y="2429.5">Ops &gt;</text></g>
<g id="n_uint32"><rect class="nb" x="37" y="947" width="75" height="26"/><text class="c" x="74.5" y="964.5">uint32_t</text></g>
<g id="n_SimpleRefCount"><rect class="nr" x="253" y="871" width="157" height="40"/><text x="264" y="888.5">ns3::SimpleRefCount</text><text class="c" x="331.5" y="903">&lt; EventImpl &gt;</text></g>
<g id="n_EventImpl"><rect class="nb" x="683" y="869" width="119" height="25"/><text class="c" x="742.5" y="886">ns3::EventImpl</text></g>
<g id="n_Ipv4Address"><rect class="nb" x="910" y="957" width="133" height="25"/><text class="c" x="976.5" y="974">ns3::Ipv4Address</text></g>
<g id="n_K"><rect class="nb" x="312" y="1008" width="39" height="25"/><text class="c" x="331.5" y="1025">K</text></g>
<g id="n_setK"><rect class="nb" x="688" y="1082" width="109" height="25"/><text class="c" x="742.5" y="1099">std::set&lt; K &gt;</text></g>
<g id="n_bool"><rect class="nb" x="307" y="1201" width="50" height="25"/><text class="c" x="332" y="1218">bool</text></g>
<g id="n_int64"><rect class="nb" x="298" y="2247" width="67" height="25"/><text class="c" x="331.5" y="2264">int64_t</text></g>
<g id="n_PtrT"><rect class="nb" x="688" y="2222" width="109" height="26"/><text class="c" x="742.5" y="2239.5">ns3::Ptr&lt; T &gt;</text></g>
<g id="n_T"><rect class="nb" x="312" y="2557" width="39" height="25"/><text class="c" x="331.5" y="2574">T</text></g>
<g id="n_SWCMPrivate"><rect class="nr" x="628" y="2675" width="230" height="26"/><text class="c" x="743" y="2692.5">ns3::SystemWallClockMsPrivate</text></g>
<g id="n_vectorT"><rect class="nb" x="678" y="2730" width="129" height="25"/><text class="c" x="742.5" y="2747">std::vector&lt; T &gt;</text></g>
<g id="n_TestCaseFailure"><rect class="nr" x="665" y="2817" width="155" height="25"/><text class="c" x="742.5" y="2834">ns3::TestCaseFailure</text></g>
<g id="n_basic_string"><rect class="nb" x="5" y="2861" width="139" height="39"/><text x="16" y="2878">std::basic_string&lt;</text><text class="c" x="74.5" y="2892.5">Char &gt;</text></g>
<g id="n_string"><rect class="nb" x="289" y="2868" width="86" height="26"/><text class="c" x="332" y="2885.5">std::string</text></g>
<g id="n_SWCM"><rect class="nb" x="1112" y="2675" width="184" height="26"/><text class="c" x="1204" y="2692.5">ns3::SystemWallClockMs</text></g>
<g id="n_vectorTCF"><rect class="nb" x="1107" y="2726" width="194" height="41"/><text x="1118" y="2744">std::vector&lt; ns3::TestCase</text><text class="c" x="1204" y="2758.5">Failure &gt;</text></g>
<g id="n_Result"><rect class="nb" x="1633" y="2670" width="159" height="25"/><text class="c" x="1712.5" y="2687">ns3::TestCase::Result</text></g>
<g id="n_TestDuration"><rect class="nb" x="1661" y="2721" width="104" height="25"/><text class="c" x="1713" y="2738">TestDuration</text></g>
<g id="n_vectorTC"><rect class="nb" x="2525" y="2635" width="221" height="25"/><text class="c" x="2635.5" y="2652">std::vector&lt; ns3::TestCase * &gt;</text></g>
<g id="n_TestCase"><rect class="nb" x="2150" y="2709" width="110" height="25"/><text class="c" x="2205" y="2726">ns3::TestCase</text></g>
<g id="n_SingletonT"><rect class="nb" x="2560" y="2685" width="151" height="26"/><text class="c" x="2635.5" y="2702.5">ns3::Singleton&lt; T &gt;</text></g>
<g id="n_SingletonTRI"><rect class="nb" x="2931" y="2689" width="199" height="40"/><text x="2942" y="2706.5">ns3::Singleton&lt; TestRunner</text><text class="c" x="3030.5" y="2721">Impl &gt;</text></g>
<g id="n_TestSuite"><rect class="nr" x="2579" y="2736" width="113" height="26"/><text class="c" x="2635.5" y="2753.5">ns3::TestSuite</text></g>
<g id="n_vectorTS"><rect class="nb" x="2935" y="2765" width="190" height="26"/><text class="c" x="3030" y="2782.5">std::vector&lt; TestSuite * &gt;</text></g>
<g id="n_TestRunnerImpl"><rect class="nb" x="3302" y="2765" width="153" height="26"/><text class="c" x="3378.5" y="2782.5">ns3::TestRunnerImpl</text></g>
</svg>
